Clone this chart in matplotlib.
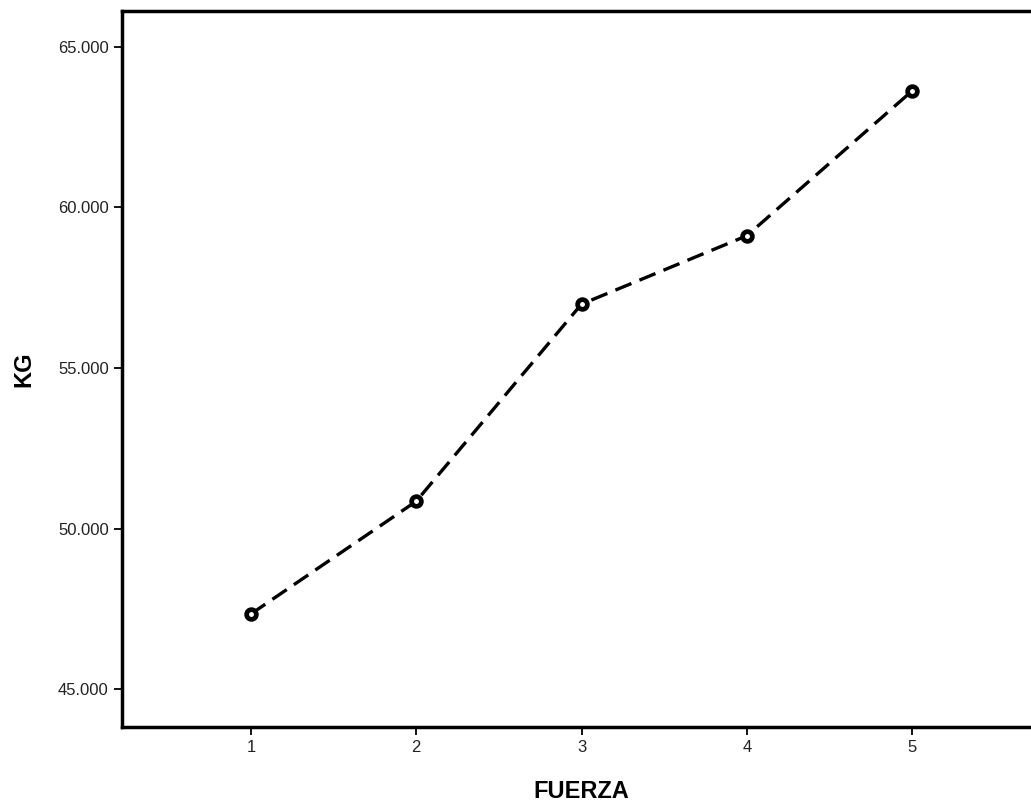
import matplotlib
matplotlib.use("Agg")
import matplotlib.pyplot as plt

fuerza = [1, 2, 3, 4, 5]
kg = [47.34, 50.85, 56.99, 59.12, 63.63]
yticks = [45, 50, 55, 60, 65]
ytick_labels = ["45.000", "50.000", "55.000", "60.000", "65.000"]

plt.rcParams['font.family'] = ['Liberation Sans', 'DejaVu Sans']
fig = plt.figure(figsize=(10.31, 8.06), dpi=100)
ax = fig.add_axes([122/1031, 79/806, (1041-122)/1031, (727-11)/806])
ax.plot(fuerza, kg, color='black', lw=2.4, dashes=(5.2, 2.6),
        marker='o', ms=7, mfc='white', mec='black', mew=3.4)
ax.set_xlim(0.22, 5.78)
ax.set_ylim(43.82, 66.12)
ax.set_xticks(fuerza)
ax.set_xticklabels([str(v) for v in fuerza], fontsize=12, color='#222222')
ax.set_yticks(yticks)
ax.set_yticklabels(ytick_labels, fontsize=12, color='#222222')
ax.tick_params(direction='out', length=6, width=1.3, colors='black', pad=3.5)
for lab in ax.get_xticklabels() + ax.get_yticklabels():
    lab.set_color('#222222')
for s in ax.spines.values():
    s.set_linewidth(2.5)
ax.set_xlabel("FUERZA", fontsize=17, fontweight='bold', labelpad=18)
ax.set_ylabel("KG", fontsize=17, fontweight='bold', labelpad=16)
fig.savefig("out.png", dpi=100)
